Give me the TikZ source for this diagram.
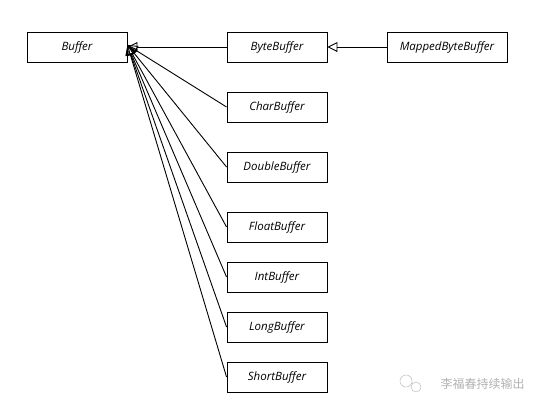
\documentclass[tikz,border=0pt]{standalone}
\usepackage{fontspec}
\usepackage{xcolor}
\usepackage{tikz}
\usetikzlibrary{shapes,arrows,arrows.meta,calc}
\newfontfamily\boxfont{Open Sans}
\newfontfamily\cjkfont{Noto Sans CJK SC}
\tikzstyle{tsItalic} = [ 
    text=black, 
    font=\boxfont\itshape\fontsize{11.5}{13}\selectfont
]
\tikzstyle{tsClass} = [ 
    rectangle,
    tsItalic,
    draw=black,
    line width=0.9pt,
    minimum width=100pt,
    minimum height=30pt,
    inner sep=0pt]
\tikzstyle{tsInherit} = [ 
    draw=black,
    line width=0.9pt,
    -{Triangle[open,length=10pt,width=10pt]}]

\begin{document}
\begin{tikzpicture}[x=1pt, y=-1pt]

    \useasboundingbox (0,0) rectangle (545,408);

    \node[tsClass] (buf)    at (77,47)  {Buffer};
    \node[tsClass] (byte)   at (277,47) {ByteBuffer};
    \node[tsClass, minimum width=120pt] (mapped) at (447,47) {MappedByteBuffer};

    \node[tsClass] (char)   at (277,107) {CharBuffer};
    \node[tsClass] (double) at (277,167) {DoubleBuffer};
    \node[tsClass] (float)  at (277,227) {FloatBuffer};
    \node[tsClass] (int)    at (277,277) {IntBuffer};
    \node[tsClass] (long)   at (277,327) {LongBuffer};
    \node[tsClass] (short)  at (277,377) {ShortBuffer};

    \coordinate (tip) at ($(buf.east)+(0,-2)$);

    \draw[tsInherit] (mapped.west) -- (byte.east);
    \draw[tsInherit] (byte.west)   -- (buf.east);
    \draw[tsInherit] (char.west)   -- (tip);
    \draw[tsInherit] (double.west) -- (tip);
    \draw[tsInherit] (float.west)  -- (tip);
    \draw[tsInherit] (int.west)    -- (tip);
    \draw[tsInherit] (long.west)   -- (tip);
    \draw[tsInherit] (short.west)  -- (tip);

    % watermark
    \draw[gray!45, line width=0.6pt] (406,381) circle (6pt);
    \draw[gray!45, line width=0.6pt, fill=white] (416,387) circle (5pt);
    \node[text=gray!60, font=\cjkfont\fontsize{12}{14}\selectfont,
          anchor=west] (mark) at (437,384) {李福春持续输出};

\end{tikzpicture}
\end{document}
